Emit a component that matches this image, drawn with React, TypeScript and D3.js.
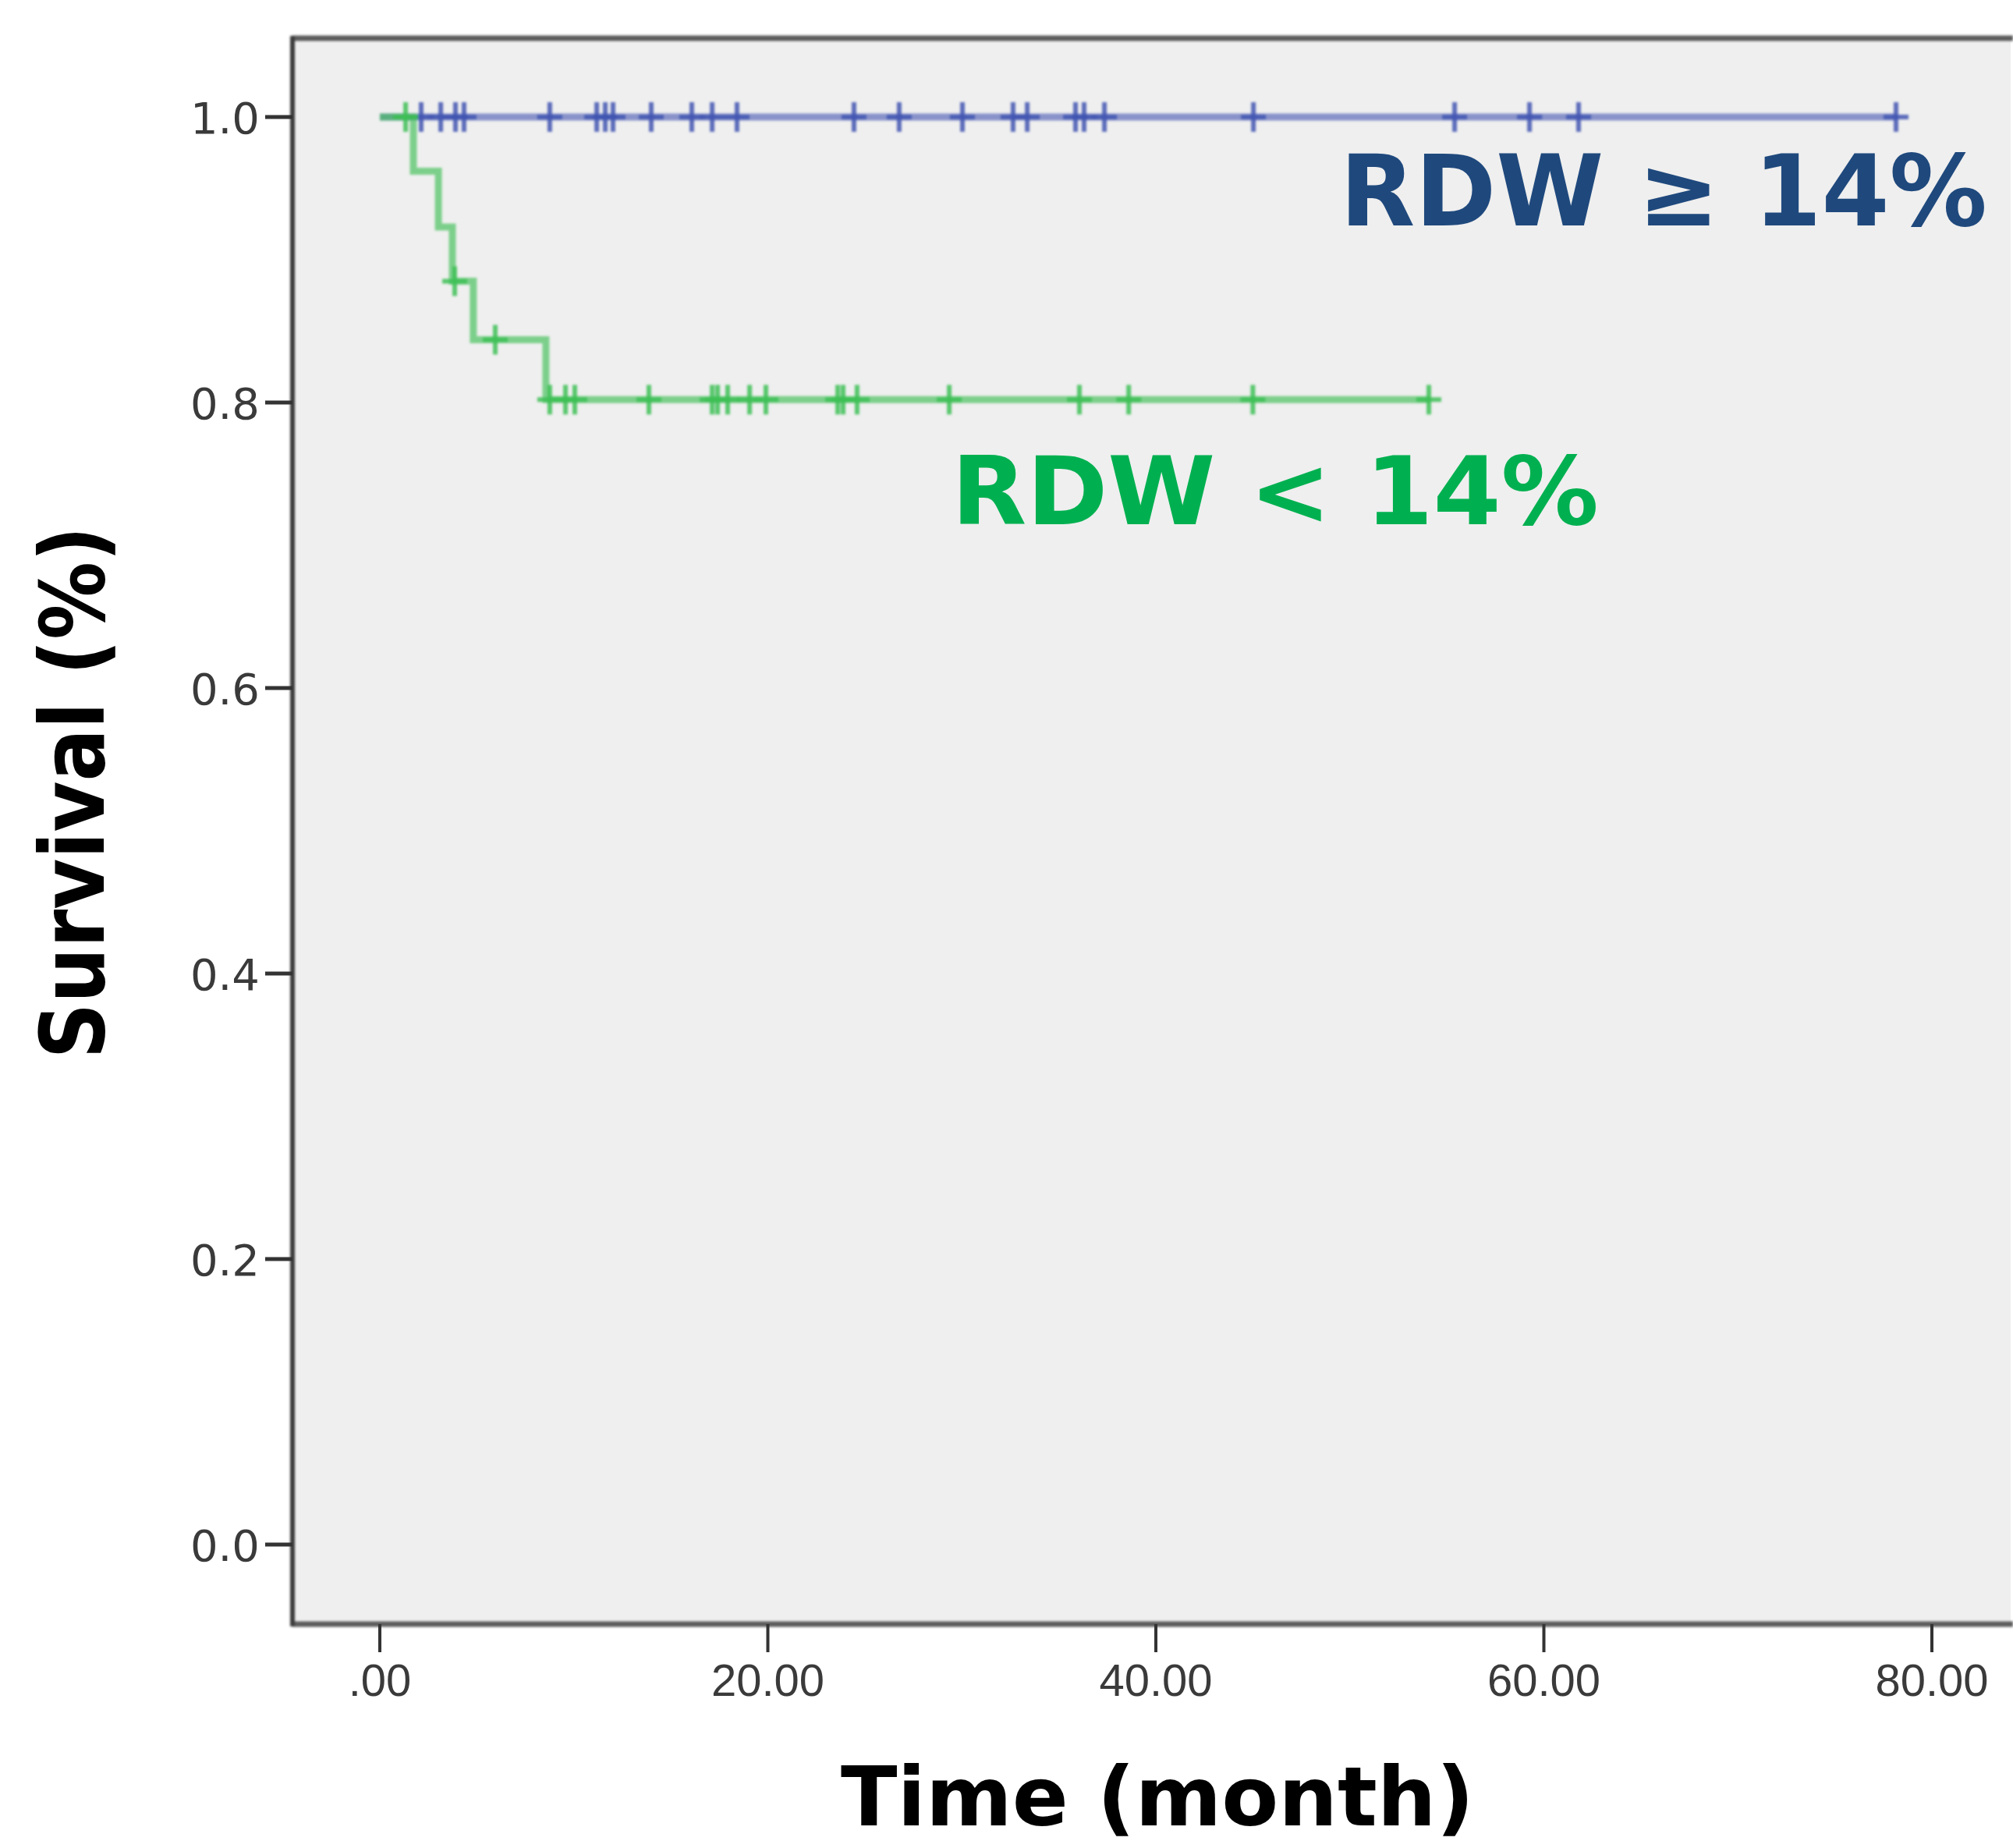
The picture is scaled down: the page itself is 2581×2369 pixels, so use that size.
import * as d3 from "d3";

const W = 2581;
const H = 2369;

// x axis (months) and y axis (survival) ticks
const xTicks = [0, 20, 40, 60, 80];
const xTickLabels = [".00", "20.00", "40.00", "60.00", "80.00"];
const yTicks = [0, 0.2, 0.4, 0.6, 0.8, 1.0];
const yTickLabels = ["0.0", "0.2", "0.4", "0.6", "0.8", "1.0"];

// RDW >= 14% : no events, censored times only
const highCensorTimes = [
  2.13, 3.14, 3.9, 4.34, 8.76, 11.18, 11.62, 12.02, 13.99, 16.08, 17.13, 18.41,
  24.44, 26.77, 30.03, 32.64, 33.37, 35.86, 36.3, 37.35, 45.03, 55.4, 59.26,
  61.79, 78.15,
];
const highEnd = 78.15;

// RDW < 14% : event times / survival after each event, and censored times
const lowEventTimes = [1.73, 3.02, 3.74, 4.82, 8.56];
const lowEventSurv = [0.962, 0.923, 0.885, 0.844, 0.802];
const lowCensorTimes = [
  1.33, 3.86, 5.95, 8.76, 9.57, 10.05, 13.87, 17.13, 17.41, 17.93, 19.06, 19.9,
  23.6, 23.88, 24.6, 29.35, 36.06, 38.6, 45.0, 54.07,
];
const lowEnd = 54.07;

const plotLeft = 375;
const plotTop = 49;
const plotBottom = 2082;
const plotRight = 2578;

const x = d3.scaleLinear().domain([0, 80]).range([487, 2477]);
const y = d3.scaleLinear().domain([0, 1]).range([1980, 150]);

const blue = "#4256b2";
const green = "#3dbf55";

function survAt(times: number[], surv: number[], t: number) {
  let s = 1;
  times.forEach((et, i) => {
    if (et <= t) s = surv[i];
  });
  return s;
}

const step = d3
  .line<[number, number]>()
  .x((d) => x(d[0]))
  .y((d) => y(d[1]))
  .curve(d3.curveStepAfter);

function Censor({ t, s, color }: { t: number; s: number; color: string }) {
  const cx = x(t);
  const cy = y(s);
  return (
    <g stroke={color} strokeWidth={6} strokeOpacity={0.85}>
      <line x1={cx} x2={cx} y1={cy - 19} y2={cy + 19} />
      <line x1={cx - 16} x2={cx + 16} y1={cy} y2={cy} />
    </g>
  );
}

export default function App() {
  const highPts: [number, number][] = [
    [0, 1],
    [highEnd, 1],
  ];
  const lowPts: [number, number][] = [[0, 1]];
  lowEventTimes.forEach((t, i) => lowPts.push([t, lowEventSurv[i]]));
  lowPts.push([lowEnd, lowEventSurv[lowEventSurv.length - 1]]);

  return (
    <div>
      <style>{`body{margin:0}`}</style>
      <svg width={W} height={H} style={{ display: "block", background: "#fff" }}>
        <defs>
          <filter id="soft" x="-5%" y="-5%" width="110%" height="110%">
            <feGaussianBlur stdDeviation="1.4" />
          </filter>
        </defs>
        <rect
          x={plotLeft}
          y={plotTop}
          width={plotRight - plotLeft}
          height={plotBottom - plotTop}
          fill="#efefef"
        />

        {/* curves */}
        <g filter="url(#soft)">
          <path d={step(highPts) ?? ""} fill="none" stroke={blue} strokeWidth={9} strokeOpacity={0.6} />
          {highCensorTimes.map((t, i) => (
            <Censor key={"h" + i} t={t} s={1} color={blue} />
          ))}
          <path d={step(lowPts) ?? ""} fill="none" stroke={green} strokeWidth={9} strokeOpacity={0.65} />
          {lowCensorTimes.map((t, i) => (
            <Censor key={"l" + i} t={t} s={survAt(lowEventTimes, lowEventSurv, t)} color={green} />
          ))}
        </g>

        {/* frame */}
        <g filter="url(#soft)">
          <line x1={plotLeft} x2={W} y1={plotTop} y2={plotTop} stroke="#5a5a5a" strokeWidth={7} />
          <line x1={plotLeft} x2={W} y1={plotBottom} y2={plotBottom} stroke="#5a5a5a" strokeWidth={7} />
          <line x1={plotLeft} x2={plotLeft} y1={plotTop - 3} y2={plotBottom + 3} stroke="#3a3a3a" strokeWidth={6} />
        </g>

        {/* y axis */}
        {yTicks.map((v, i) => (
          <g key={"y" + i}>
            <line x1={340} x2={plotLeft} y1={y(v)} y2={y(v)} stroke="#333" strokeWidth={5} />
            <text
              x={333}
              y={y(v) + 21}
              textAnchor="end"
              fontFamily="DejaVu Sans, Verdana, sans-serif"
              fontSize={56}
              fill="#3a3a3a"
            >
              {yTickLabels[i]}
            </text>
          </g>
        ))}

        {/* x axis */}
        {xTicks.map((v, i) => (
          <g key={"x" + i}>
            <line x1={x(v)} x2={x(v)} y1={plotBottom} y2={2118} stroke="#333" strokeWidth={4} />
            <text
              x={x(v)}
              y={2174}
              textAnchor="middle"
              fontFamily="Liberation Sans, Arial, sans-serif"
              fontSize={58}
              fill="#3a3a3a"
            >
              {xTickLabels[i]}
            </text>
          </g>
        ))}

        {/* axis titles */}
        <text
          x={1484}
          y={2340}
          textAnchor="middle"
          fontFamily="DejaVu Sans, Verdana, sans-serif"
          fontWeight="bold"
          fontSize={106}
          textLength={812}
          lengthAdjust="spacingAndGlyphs"
          fill="#000"
        >
          Time (month)
        </text>
        <text
          transform={`translate(133, 1016) rotate(-90)`}
          textAnchor="middle"
          fontFamily="DejaVu Sans, Verdana, sans-serif"
          fontWeight="bold"
          fontSize={114}
          textLength={683}
          lengthAdjust="spacingAndGlyphs"
          fill="#000"
        >
          Survival (%)
        </text>

        {/* group labels */}
        <text
          x={1718}
          y={289}
          fontFamily="DejaVu Sans, Verdana, sans-serif"
          fontWeight="bold"
          fontSize={126}
          textLength={830}
          lengthAdjust="spacingAndGlyphs"
          fill="#1f497d"
        >
          RDW ≥ 14%
        </text>
        <text
          x={1220}
          y={672}
          fontFamily="DejaVu Sans, Verdana, sans-serif"
          fontWeight="bold"
          fontSize={121}
          textLength={830}
          lengthAdjust="spacingAndGlyphs"
          fill="#00b050"
        >
          RDW &lt; 14%
        </text>
      </svg>
    </div>
  );
}
